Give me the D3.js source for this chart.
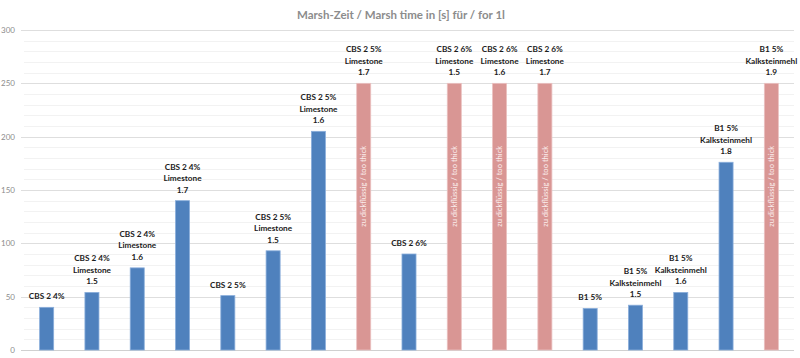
<!DOCTYPE html>
<html>
<head>
<meta charset="utf-8">
<script src="https://cdn.jsdelivr.net/npm/d3@7"></script>
<style>
  body { margin: 0; background: #fff; }
  svg { display: block; font-family: Lato, "Open Sans", sans-serif; }
</style>
</head>
<body>
<div id="chart"></div>
<script>
// bar names (one entry per bar, lines of the label)
var labels = [
  ["CBS 2 4%"],
  ["CBS 2 4%", "Limestone", "1.5"],
  ["CBS 2 4%", "Limestone", "1.6"],
  ["CBS 2 4%", "Limestone", "1.7"],
  ["CBS 2 5%"],
  ["CBS 2 5%", "Limestone", "1.5"],
  ["CBS 2 5%", "Limestone", "1.6"],
  ["CBS 2 5%", "Limestone", "1.7"],
  ["CBS 2 6%"],
  ["CBS 2 6%", "Limestone", "1.5"],
  ["CBS 2 6%", "Limestone", "1.6"],
  ["CBS 2 6%", "Limestone", "1.7"],
  ["B1 5%"],
  ["B1 5%", "Kalksteinmehl", "1.5"],
  ["B1 5%", "Kalksteinmehl", "1.6"],
  ["B1 5%", "Kalksteinmehl", "1.8"],
  ["B1 5%", "Kalksteinmehl", "1.9"]
];
var values = [40, 54, 77, 140, 51, 93, 205, 250, 90, 250, 250, 250, 39, 42, 54, 176, 250];
var tooThick = [0, 0, 0, 0, 0, 0, 0, 1, 0, 1, 1, 1, 0, 0, 0, 0, 1];
var yTicks = [0, 50, 100, 150, 200, 250, 300];
var title = "Marsh-Zeit / Marsh time in [s] für / for 1l";
var thickText = "zu dickflüssig / too thick";

var W = 800, H = 358;
var margin = {top: 30, bottom: 8, left: 24, right: 6};

var svg = d3.select("#chart")
    .append("svg")
    .attr("width", W)
    .attr("height", H);

// pick a font size so a sample string gets a given width
function fitSize(str, weight, target) {
    var t = svg.append("text")
        .style("font-size", "10px")
        .style("font-weight", weight)
        .text(str);
    var w = t.node().getComputedTextLength();
    t.remove();
    return 10 * target / w;
}

var titleSize = fitSize(title, "bold", 208);
var labelSize = fitSize("Kalksteinmehl", "bold", 52);
var thickSize = fitSize(thickText, "normal", 81);

var x = d3.scaleBand()
    .domain(d3.range(values.length))
    .range([margin.left, W - margin.right])
    .paddingInner(0.69)
    .paddingOuter(0.345);

var y = d3.scaleLinear()
    .domain([0, 300])
    .range([H - margin.bottom, margin.top]);

// title
svg.append("text")
    .attr("x", 401)
    .attr("y", 15)
    .attr("dy", "0.35em")
    .attr("text-anchor", "middle")
    .style("font-size", titleSize + "px")
    .style("font-weight", "bold")
    .style("fill", "#8c8c8c")
    .text(title);

// minor grid
svg.append("g")
    .selectAll("line")
    .data(d3.range(10, 300, 10).filter(function(v){ return v % 50 != 0; }))
    .enter().append("line")
    .attr("x1", margin.left).attr("x2", W - margin.right)
    .attr("y1", function(d){ return Math.round(y(d)) + 0.5; })
    .attr("y2", function(d){ return Math.round(y(d)) + 0.5; })
    .style("stroke", "#f2f2f2");

// major grid
svg.append("g")
    .selectAll("line")
    .data(yTicks)
    .enter().append("line")
    .attr("x1", margin.left - 3).attr("x2", W - margin.right)
    .attr("y1", function(d){ return Math.round(y(d)) + 0.5; })
    .attr("y2", function(d){ return Math.round(y(d)) + 0.5; })
    .style("stroke", function(d){ return d == 0 ? "#d0d0d0" : "#dedede"; });

// y labels
svg.append("g")
    .selectAll("text")
    .data(yTicks)
    .enter().append("text")
    .attr("x", 15)
    .attr("y", function(d){ return y(d) + 3; })
    .attr("text-anchor", "end")
    .style("font-size", "8px")
    .style("fill", "#8c8c8c")
    .text(function(d){ return d; });

// bars
svg.append("g")
    .selectAll("rect")
    .data(values)
    .enter().append("rect")
    .attr("x", function(d, i){ return x(i); })
    .attr("y", function(d){ return y(d); })
    .attr("width", x.bandwidth())
    .attr("height", function(d){ return y(0) - y(d); })
    .style("fill", function(d, i){ return tooThick[i] ? "#d99694" : "#4f81bd"; })
    .style("stroke", function(d, i){ return tooThick[i] ? "#ebc1c0" : "#8aaedb"; })
    .style("stroke-width", 0.8);

// rotated text inside pink bars
svg.append("g")
    .selectAll("text")
    .data(values.map(function(v, i){ return i; }).filter(function(i){ return tooThick[i]; }))
    .enter().append("text")
    .attr("transform", function(i){
        return "translate(" + (x(i) + x.bandwidth() / 2) + "," + (y(values[i]) + 103) + ") rotate(-90)";
    })
    .attr("dy", "0.35em")
    .attr("text-anchor", "middle")
    .style("font-size", thickSize + "px")
    .style("fill", "#fbeeee")
    .text(thickText);

// labels above bars
var lab = svg.append("g")
    .selectAll("text")
    .data(labels)
    .enter().append("text")
    .attr("text-anchor", "middle")
    .style("font-size", labelSize + "px")
    .style("font-weight", "bold")
    .style("fill", "#1a1a1a");

lab.each(function(lines, i){
    var t = d3.select(this);
    var cx = x(i) + x.bandwidth() / 2;
    var base = y(values[i]) - 8;
    lines.forEach(function(s, k){
        t.append("tspan")
            .attr("x", cx)
            .attr("y", base - (lines.length - 1 - k) * 11.5)
            .text(s);
    });
});
</script>
</body>
</html>
